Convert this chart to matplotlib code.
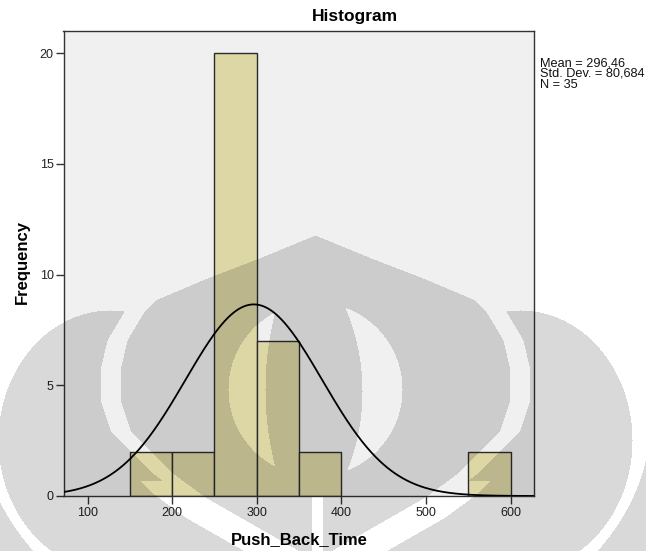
import numpy as np
import matplotlib
matplotlib.use("Agg")
import matplotlib.pyplot as plt

plt.rcParams["font.family"] = ["Liberation Sans", "DejaVu Sans"]

# Histogram of Push_Back_Time (bin width 50)
bin_starts = [150, 200, 250, 300, 350, 400, 450, 500, 550]
counts = [2, 2, 20, 7, 2, 0, 0, 0, 2]
bin_width = 50

mean_val = 296.46
std_val = 80.684
n_val = 35

x_ticks = [100, 200, 300, 400, 500, 600]
y_ticks = [0, 5, 10, 15, 20]

W, H = 646, 551
fig = plt.figure(figsize=(W / 100, H / 100), dpi=100)
fig.patch.set_facecolor("white")

ax = fig.add_axes([63.5 / W, 55 / H, (534 - 63.5) / W, (496 - 31) / H])
ax.set_facecolor("#F0F0F0")

for left, c in zip(bin_starts, counts):
    if c > 0:
        ax.bar(left, c, width=bin_width, align="edge", color="#DCD7A5",
               edgecolor="#2b2b2b", linewidth=1.0, zorder=2)

xs = np.linspace(71.6, 627.5, 600)
pdf = np.exp(-0.5 * ((xs - mean_val) / std_val) ** 2) / (std_val * np.sqrt(2 * np.pi))
ax.plot(xs, n_val * bin_width * pdf, color="black", linewidth=1.3, zorder=3)

ax.set_xlim(71.6, 627.5)
ax.set_ylim(0, 21)
ax.set_xticks(x_ticks)
ax.set_yticks(y_ticks)
ax.tick_params(direction="out", length=6, width=1, color="#333333",
               labelsize=9, labelcolor="#222222")
ax.tick_params(axis="x", pad=2)
ax.tick_params(axis="y", pad=1)
for s in ax.spines.values():
    s.set_color("#333333")
    s.set_linewidth(1.0)

fig.text(355 / W, 1 - 16 / H, "Histogram", ha="center", va="center",
         fontsize=12.5, fontweight="bold")
fig.text(22.5 / W, 1 - 262 / H, "Frequency", ha="center", va="center",
         rotation=90, fontsize=12, fontweight="bold")
fig.text(299.5 / W, 1 - 539.5 / H, "Push_Back_Time", ha="center", va="center",
         fontsize=12, fontweight="bold")

stats = ["Mean = " + f"{mean_val:.2f}".replace(".", ","),
         "Std. Dev. = " + f"{std_val:.3f}".replace(".", ","),
         f"N = {n_val}"]
for i, line in enumerate(stats):
    fig.text(540 / W, 1 - (63 + 11 * i) / H, line, ha="left", va="center",
             fontsize=9.2, color="#111111")

# Faded emblem printed over the lower part of the page (pixel grid, top origin)
Y, X = np.mgrid[0:H, 0:W].astype(float)
cx = 315.0
prof_y = [235, 258, 278, 300, 313, 340, 370, 400, 430, 453, 475, 497, 520, 540, 560]
prof_w = [0, 56, 108, 160, 172, 188, 195, 195, 185, 163, 140, 110, 70, 35, 0]
half_w = np.interp(Y, prof_y, prof_w, left=0, right=0)
dome = np.abs(X - cx) < half_w
wide_w = np.interp(Y, [p - 6 if i < 4 else p for i, p in enumerate(prof_y)],
                   [w + 20 for w in prof_w], left=0, right=0)
wide_w = np.maximum(wide_w, np.interp(Y, [y + 20 for y in prof_y], [w + 20 for w in prof_w],
                                      left=0, right=0) * (Y > 480))
dome_wide = np.abs(X - cx) < wide_w

ring = (X - cx) ** 2 + (Y - 389) ** 2 <= 87 ** 2
left_cut = ring & ((X - 578) ** 2 + (Y - 389) ** 2 > 313 ** 2) & (X < cx)
right_cut = ring & ((X - 149) ** 2 + (Y - 391) ** 2 > 213 ** 2) & (X > cx)
slot = (X >= 312) & (X <= 322) & (Y >= 497)

outer = ((((X - 520) / 112) ** 2 + ((Y - 440) / 130) ** 2 <= 1) |
         (((X - 110) / 112) ** 2 + ((Y - 440) / 130) ** 2 <= 1) |
         ((((X - cx) / 315) ** 2 + ((Y - 420) / 222) ** 2 <= 1) & (Y >= 420)))
lobes = outer & ~dome_wide & ~slot
outer_gap = (((X - cx) / 335) ** 2 + ((Y - 420) / 242) ** 2 <= 1)
rim = (((X - cx) / 400) ** 2 + ((Y - 420) / 320) ** 2 <= 1) & ~outer_gap & (Y >= 430)

mask = (dome & ~left_cut & ~right_cut & ~slot) | lobes | rim

overlay = np.zeros((H, W, 4))
overlay[..., 3] = 0.15 * mask
fig.figimage(overlay, xo=0, yo=0, origin="upper", zorder=10)

fig.savefig("out.png", dpi=100)
